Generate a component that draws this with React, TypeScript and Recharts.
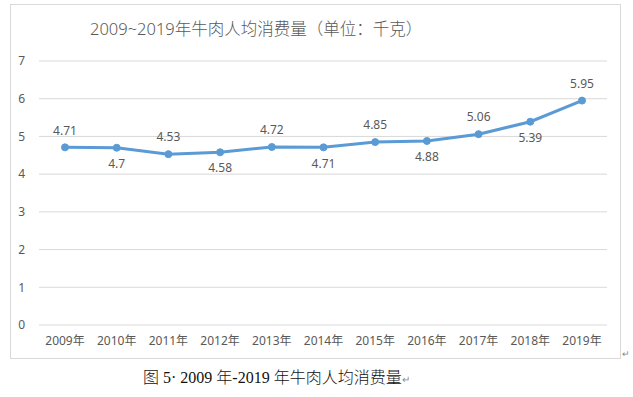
import React from "react";
import { LineChart, Line, XAxis, YAxis, CartesianGrid, LabelList } from "recharts";

const years = ["2009年", "2010年", "2011年", "2012年", "2013年", "2014年", "2015年", "2016年", "2017年", "2018年", "2019年"];
const values = [4.71, 4.7, 4.53, 4.58, 4.72, 4.71, 4.85, 4.88, 5.06, 5.39, 5.95];
const yTicks = [0, 1, 2, 3, 4, 5, 6, 7];
const labelAbove = [true, false, true, false, true, false, true, false, true, false, true];

const data = years.map((y, i) => ({ year: y, value: values[i] }));

const BLUE = "#5B9BD5";
const GRAY = "#595959";

const renderLabel = (props: any) => {
  const { x, y, value, index } = props;
  const above = labelAbove[index];
  return (
    <text
      x={x}
      y={above ? y - 16 : y + 17}
      textAnchor="middle"
      dominantBaseline="middle"
      fill={GRAY}
      fontSize={12}
      fontFamily="'Noto Sans', sans-serif"
    >
      {String(value)}
    </text>
  );
};

export default function App() {
  return (
    <div style={{ position: "absolute", left: 0, top: 0, width: 633, height: 397, background: "#fff", overflow: "hidden" }}>
      <div
        style={{
          position: "absolute",
          left: 10,
          top: 4,
          width: 611,
          height: 355,
          border: "1px solid #d9d9d9",
          boxSizing: "border-box",
        }}
      />
      <div
        style={{
          position: "absolute",
          left: 90,
          top: 16,
          fontSize: 16.5,
          fontWeight: 300,
          color: GRAY,
          fontFamily: "'Noto Sans', 'Noto Sans CJK SC', sans-serif",
          whiteSpace: "nowrap",
          lineHeight: "26px",
        }}
      >
        2009~2019年牛肉人均消费量（单位：千克）
      </div>
      <div style={{ position: "absolute", left: 0, top: 0 }}>
        <LineChart width={633} height={360} data={data} margin={{ top: 61, right: 26, left: 9, bottom: 5 }}>
          <CartesianGrid vertical={false} stroke="#d9d9d9" strokeWidth={1} />
          <XAxis
            dataKey="year"
            axisLine={false}
            tickLine={false}
            height={30}
            padding={{ left: 26, right: 25 }}
            tick={{ fill: GRAY, fontSize: 12, fontFamily: "'Noto Sans', 'Noto Sans CJK SC', sans-serif" }}
            interval={0}
            tickMargin={5}
          />
          <YAxis
            domain={[0, 7]}
            ticks={yTicks}
            axisLine={false}
            tickLine={false}
            width={30}
            tickMargin={8}
            tick={{ fill: GRAY, fontSize: 12, fontFamily: "'Noto Sans', sans-serif" }}
          />
          <Line
            type="linear"
            dataKey="value"
            stroke={BLUE}
            strokeWidth={3}
            dot={{ r: 3.5, fill: BLUE, stroke: BLUE, strokeWidth: 1 }}
            isAnimationActive={false}
          >
            <LabelList dataKey="value" content={renderLabel} />
          </Line>
        </LineChart>
      </div>
      <div style={{ position: "absolute", left: 622, top: 349, fontSize: 9, lineHeight: "10px", color: "#888" }}>↵</div>
      <div
        style={{
          position: "absolute",
          left: 143,
          top: 366,
          fontSize: 16,
          fontWeight: 300,
          color: "#111",
          fontFamily: "'Liberation Serif', 'Noto Sans CJK SC', serif",
          whiteSpace: "nowrap",
          lineHeight: "24px",
        }}
      >
        图 5· 2009 年-2019 年牛肉人均消费量<span style={{ fontSize: 10, color: "#888" }}>↵</span>
      </div>
    </div>
  );
}
